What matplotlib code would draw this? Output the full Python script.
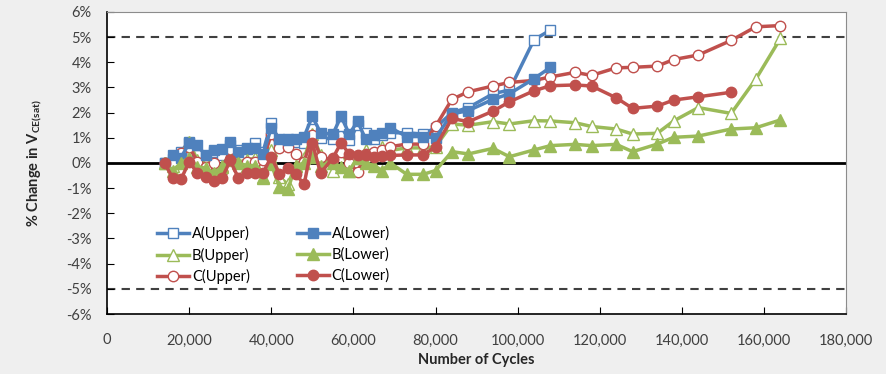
import numpy as np
import matplotlib
matplotlib.use("Agg")
import matplotlib.pyplot as plt

plt.rcParams['font.family'] = ['Lato', 'DejaVu Sans']

# cycles (thousands) for the early, dense part and the later part
x_early = [14, 16, 18, 20, 22, 24, 26, 28, 30, 32, 34, 36, 38, 40, 42, 44, 46, 48,
           50, 52, 55, 57, 59, 61, 63, 65, 67, 69, 73, 77, 80]
x_late = [84, 88, 94, 98, 104, 108, 114, 118, 124, 128, 134, 138, 144, 152, 158, 164]

a_upper = [0.0, 0.15, 0.45, 0.85, 0.3, 0.25, 0.45, 0.3, 0.7, 0.5, 0.55, 0.8, 0.45, 1.6, 0.8, 0.95,
           0.85, 0.8, 1.35, 1.0, 0.95, 1.45, 0.9, 1.5, 1.2, 0.95, 1.1, 1.2, 1.2, 1.15, 1.4,
           2.0, 2.2, 2.75, 2.9, 4.9, 5.28]
a_lower = [0.0, 0.3, 0.2, 0.8, 0.7, 0.3, 0.5, 0.55, 0.85, 0.45, 0.6, 0.6, 0.35, 1.4, 0.95, 0.9,
           0.95, 1.05, 1.85, 1.2, 1.15, 1.85, 1.15, 1.65, 0.95, 1.1, 1.2, 1.4, 1.05, 1.05, 1.0,
           1.95, 2.08, 2.53, 2.75, 3.35, 3.8]
b_upper = [0.0, -0.1, 0.1, 0.85, 0.1, 0.0, -0.3, -0.1, 0.3, 0.05, 0.1, 0.2, -0.55, 0.5, -0.55, -0.85,
           -0.1, 0.2, 1.15, 0.3, -0.3, 0.6, -0.3, 0.2, 0.5, 0.4, 0.65, 0.5, 0.6, 0.6, 0.65,
           1.55, 1.5, 1.64, 1.55, 1.68, 1.67, 1.6, 1.45, 1.35, 1.15, 1.18, 1.67, 2.2, 1.97, 3.33, 4.95]
b_lower = [0.0, -0.3, 0.0, 0.2, -0.15, -0.2, -0.4, -0.15, 0.1, 0.0, -0.1, -0.1, -0.6, -0.05, -0.95, -1.05,
           -0.1, 0.0, 0.25, -0.1, 0.0, -0.15, -0.3, 0.2, 0.0, -0.1, -0.3, 0.0, -0.45, -0.45, -0.3,
           0.45, 0.36, 0.58, 0.25, 0.52, 0.69, 0.74, 0.69, 0.74, 0.45, 0.75, 1.02, 1.07, 1.35, 1.4, 1.71]
c_upper = [0.0, 0.0, 0.4, 0.65, 0.05, -0.15, 0.0, -0.3, 0.55, -0.2, 0.05, 0.05, 0.1, 1.15, 0.6, 0.65,
           0.35, 0.05, 1.1, 0.25, 0.1, 0.45, 0.0, -0.35, 0.35, 0.45, 0.5, 0.65, 0.75, 0.75, 1.45,
           2.53, 2.83, 3.06, 3.2, 3.28, 3.42, 3.6, 3.48, 3.78, 3.8, 3.85, 4.11, 4.29, 4.87, 5.41, 5.46]
c_lower = [0.0, -0.6, -0.65, 0.05, -0.4, -0.55, -0.7, -0.6, 0.1, -0.6, -0.4, -0.4, -0.4, 0.25, -0.45, -0.2,
           -0.45, -0.85, 0.8, -0.4, 0.2, 0.8, 0.35, 0.3, 0.3, 0.25, 0.28, 0.3, 0.32, 0.32, 0.65,
           1.77, 1.64, 2.06, 2.43, 2.87, 3.07, 3.1, 3.06, 2.59, 2.17, 2.26, 2.5, 2.63, 2.81]

x_all = np.array(x_early + x_late) * 1000

blue = '#4F81BD'
green = '#9BBB59'
red = '#C0504D'

fig = plt.figure(figsize=(8.86, 3.74), dpi=100, facecolor='#efefef')
ax = fig.add_axes([0.1208, 0.1604, 0.955 - 0.1208, 0.968 - 0.1604])
ax.set_facecolor('white')

ax.axhline(0, color='black', lw=2, zorder=1)
ax.axhline(5, color='#404040', lw=1.5, ls=(0, (4, 3)), zorder=1)
ax.axhline(-5, color='#404040', lw=1.5, ls=(0, (4, 3)), zorder=1)

series = [
    ('A(Upper)', a_upper, blue, 's', False),
    ('B(Upper)', b_upper, green, '^', False),
    ('C(Upper)', c_upper, red, 'o', False),
    ('A(Lower)', a_lower, blue, 's', True),
    ('B(Lower)', b_lower, green, '^', True),
    ('C(Lower)', c_lower, red, 'o', True),
]
handles = []
for name, vals, col, mk, filled in series:
    xs = x_all[:len(vals)]
    h, = ax.plot(xs, vals, color=col, lw=2.5, marker=mk, ms=7.5 if mk != '^' else 8,
                 mfc=col if filled else 'white', mec=col, mew=1.0, label=name, zorder=3)
    handles.append(h)

ax.set_xlim(0, 180000)
ax.set_ylim(-6, 6)
ax.set_xticks(np.arange(0, 180001, 20000))
ax.set_xticklabels(['0'] + ['{:,}'.format(v) for v in range(20000, 180001, 20000)])
ax.set_yticks(np.arange(-6, 7, 1))
ax.set_yticklabels(['{}%'.format(v) for v in range(-6, 7)])
ax.tick_params(direction='in', length=5, color='black', labelsize=10.5, labelcolor='#404040')
ax.tick_params(axis='x', pad=14)
ax.tick_params(axis='y', pad=11)

for s in ['top', 'right']:
    ax.spines[s].set_color('#8c8c8c')
for s in ['left', 'bottom']:
    ax.spines[s].set_color('black')
    ax.spines[s].set_linewidth(1.2)

ax.set_xlabel('Number of Cycles', fontsize=10.5, fontweight='bold', color='#262626', labelpad=4)
ax.set_ylabel(r'% Change in V$_{\mathregular{CE(sat)}}$', fontsize=10.5, fontweight='bold',
              color='#262626', labelpad=16)

ax.legend(handles=handles, ncol=2, frameon=False, loc='lower left',
          bbox_to_anchor=(0.05, 0.055), fontsize=10.5, handlelength=2.2,
          columnspacing=3.2, labelspacing=0.45, handletextpad=0.2)

fig.savefig('out.png', dpi=100, facecolor=fig.get_facecolor())
